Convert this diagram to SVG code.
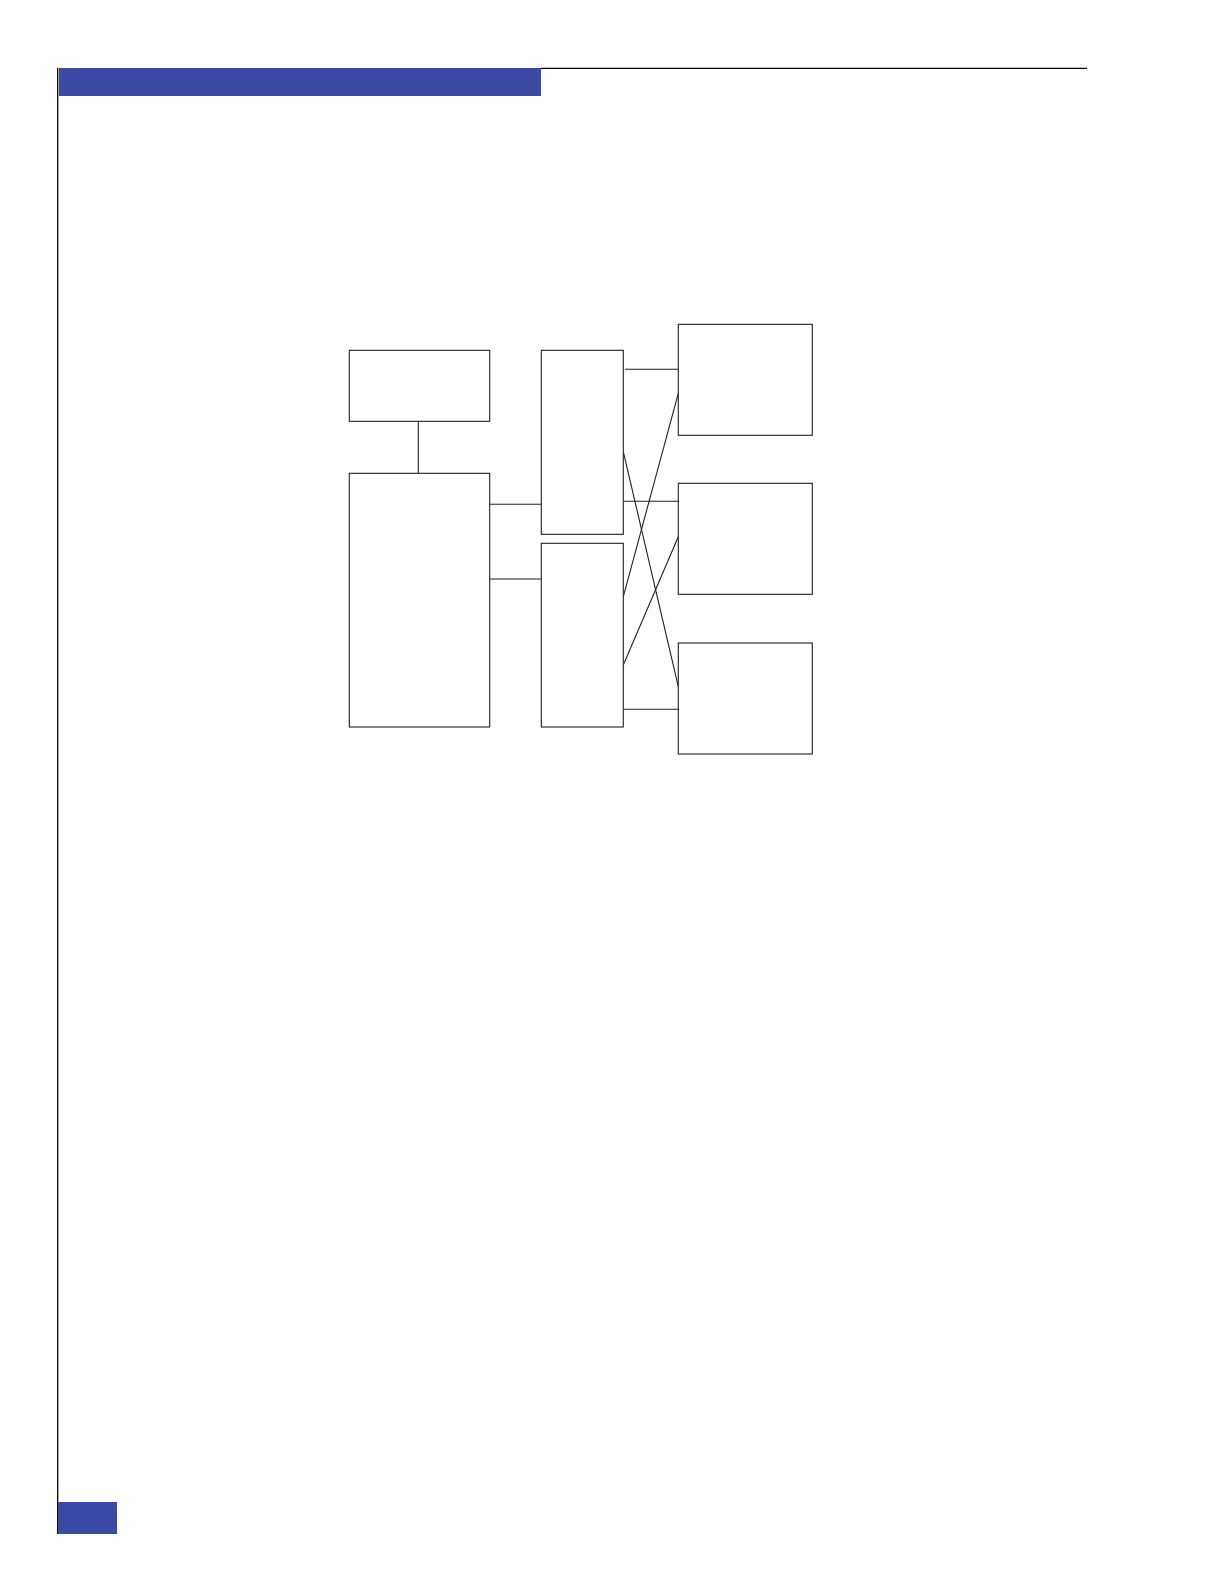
<svg xmlns="http://www.w3.org/2000/svg" width="1224" height="1584" viewBox="0 0 1224 1584">
<style>
.box{fill:#fff;stroke:#231f20;stroke-width:1.1}
.ln{fill:none;stroke:#231f20;stroke-width:1.1}
.band{fill:#3a4aa5}
</style>
<rect width="1224" height="1584" fill="#fff"/>
<g id="page-frame">
<rect class="band" x="59" y="68" width="482" height="28"/>
<line x1="541" y1="68.3" x2="1087" y2="68.3" stroke="#000" stroke-width="1.3"/>
<line x1="57.7" y1="68" x2="57.7" y2="1534" stroke="#000" stroke-width="1.3"/>
<rect class="band" x="58" y="1502" width="59" height="32"/>
</g>
<g id="connectors">
<line class="ln" x1="418.3" y1="421.3" x2="418.3" y2="473.3"/>
<line class="ln" x1="489.7" y1="504.3" x2="541.3" y2="504.3"/>
<line class="ln" x1="489.7" y1="579" x2="541.3" y2="579"/>
<line class="ln" x1="625" y1="369.3" x2="678.3" y2="369.3"/>
<line class="ln" x1="623.3" y1="501.3" x2="678.3" y2="501.3"/>
<line class="ln" x1="623.3" y1="451.7" x2="678.3" y2="686.7"/>
<line class="ln" x1="623.3" y1="596.7" x2="678.3" y2="393.3"/>
<line class="ln" x1="623.3" y1="665" x2="678.3" y2="536.7"/>
<line class="ln" x1="623.3" y1="709.3" x2="678.3" y2="709.3"/>
</g>
<g id="node-top-left"><rect class="box" x="349.3" y="350.3" width="140.4" height="71"/></g>
<g id="node-main-left"><rect class="box" x="349.3" y="473.3" width="140.4" height="253.7"/></g>
<g id="node-mid-top"><rect class="box" x="541.3" y="350.3" width="82" height="184"/></g>
<g id="node-mid-bottom"><rect class="box" x="541.3" y="543.3" width="82" height="183.7"/></g>
<g id="node-right-1"><rect class="box" x="678.3" y="324.3" width="134" height="111"/></g>
<g id="node-right-2"><rect class="box" x="678.3" y="483.3" width="134" height="111"/></g>
<g id="node-right-3"><rect class="box" x="678.3" y="643" width="134" height="111"/></g>
</svg>
